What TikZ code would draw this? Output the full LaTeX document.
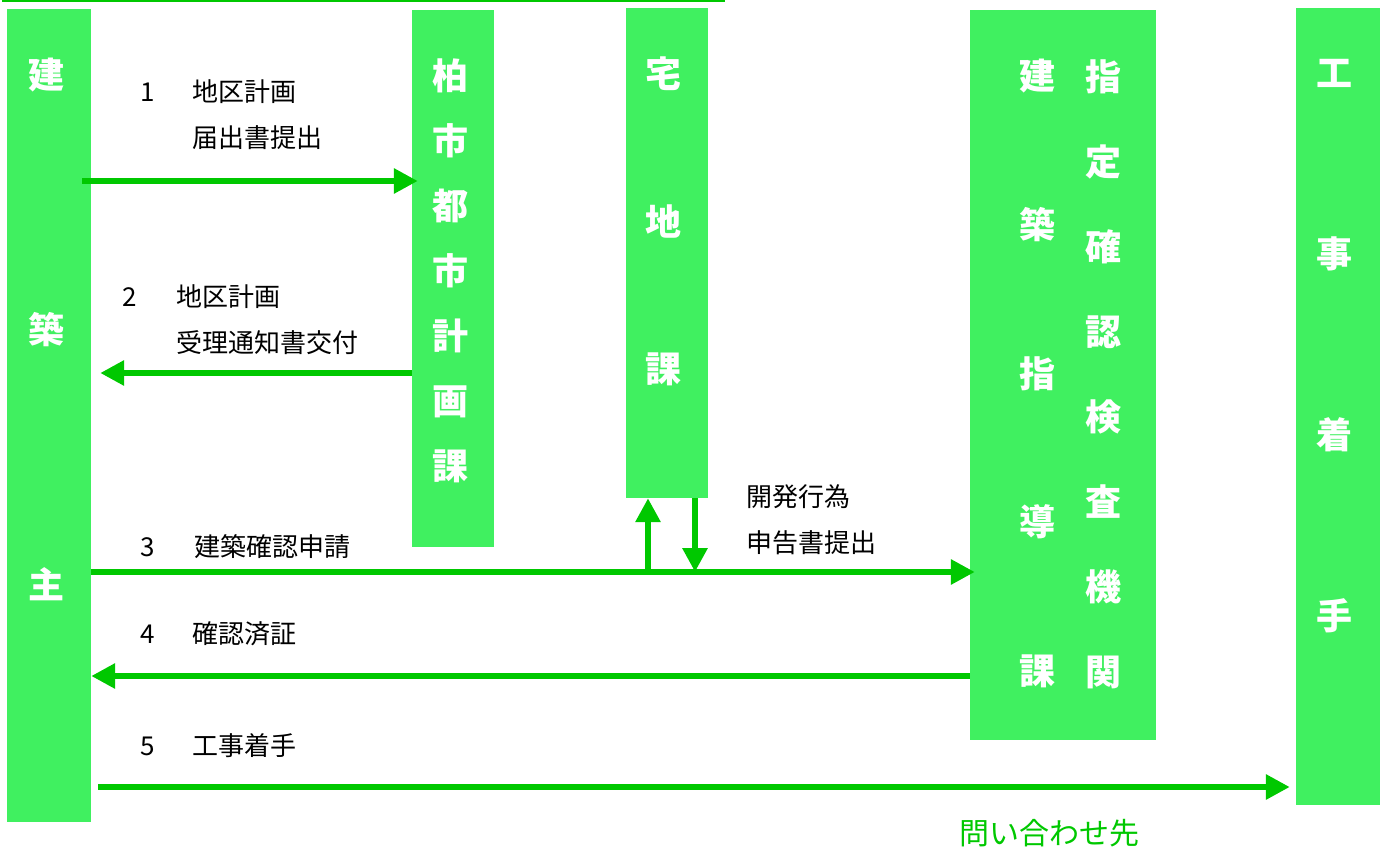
\documentclass[tikz,border=0pt]{standalone}
\usepackage{fontspec}
\setmainfont{Noto Sans CJK JP}
\usepackage{tikz}
\usetikzlibrary{arrows.meta,positioning}
\definecolor{boxgreen}{RGB}{64,240,96}
\definecolor{flowgreen}{RGB}{0,200,0}

\begin{document}
\begin{tikzpicture}[x=1pt,y=-1pt,
  box/.style={fill=boxgreen,draw=none,inner sep=0},
  vtext/.style={font=\bfseries\fontsize{36}{#1}\selectfont,text=white,align=center,inner sep=0,anchor=north},
  lbl/.style={font=\fontsize{26}{46}\selectfont,inner sep=0,anchor=west},
  flow/.style={draw=flowgreen,line width=6pt,-{Triangle[length=24pt,width=24pt]}}]
\useasboundingbox (0,0) rectangle (1388,850);
\draw[flowgreen,line width=2.5pt] (2,1) -- (725,1);
% boxes
\node[box,minimum width=84,minimum height=813] (owner) at (49,415.5) {};
\node[box,minimum width=82,minimum height=537] (city) at (453,278.5) {};
\node[box,minimum width=82,minimum height=490] (takuchi) at (667,253) {};
\node[box,minimum width=186,minimum height=730] (kakunin) at (1063,375) {};
\node[box,minimum width=84,minimum height=797] (koji) at (1338,406.5) {};
\node[vtext=255] (owner_t) at (46,58) {建\\築\\主};
\node[vtext=65] (city_t) at (450,59) {柏\\市\\都\\市\\計\\画\\課};
\node[vtext=147.5] (takuchi_t) at (663,57) {宅\\地\\課};
\node[vtext=148.75] (shido_t) at (1037,59) {建\\築\\指\\導\\課};
\node[vtext=85] (kikan_t) at (1103,59) {指\\定\\確\\認\\検\\査\\機\\関};
\node[vtext=181] (koji_t) at (1334,59) {工\\事\\着\\手};
% labels
\node[lbl] (n1) at (140,92) {1};
\node[lbl,align=left,anchor=north west] (t1) at (192,79) {地区計画\\届出書提出};
\node[lbl] (n2) at (122,297) {2};
\node[lbl,align=left,anchor=north west] (t2) at (176,284) {地区計画\\受理通知書交付};
\node[lbl] (n3) at (140,547) {3};
\node[lbl] (t3) at (194,547) {建築確認申請};
\node[lbl] (n4) at (140,634) {4};
\node[lbl] (t4) at (192,634) {確認済証};
\node[lbl] (n5) at (140,746) {5};
\node[lbl] (t5) at (192,746) {工事着手};
\node[lbl,align=left,anchor=north west] (t6) at (746,484) {開発行為\\申告書提出};
\node[lbl,font=\fontsize{30}{36}\selectfont,text=flowgreen] (contact) at (959,833) {問い合わせ先};
% arrows
\coordinate (r1) at (0,181);
\coordinate (r2) at (0,373);
\coordinate (r3) at (0,572);
\coordinate (r4) at (0,676);
\coordinate (r5) at (0,787);
\draw[flow] ([xshift=-9]owner.east |- r1) -- ([xshift=6]city.west |- r1);
\draw[flow] (city.west |- r2) -- ([xshift=9]owner.east |- r2);
\draw[flow] (owner.east |- r3) -- ([xshift=5]kakunin.west |- r3);
\draw[flow] ([xshift=-19]takuchi.south |- r3) -- ([xshift=-19]takuchi.south);
\draw[flow] ([xshift=28]takuchi.south) -- ([xshift=28]takuchi.south |- r3);
\draw[flow] (kakunin.west |- r4) -- (owner.east |- r4);
\draw[flow] ([xshift=7]owner.east |- r5) -- ([xshift=-6]koji.west |- r5);
\end{tikzpicture}
\end{document}
